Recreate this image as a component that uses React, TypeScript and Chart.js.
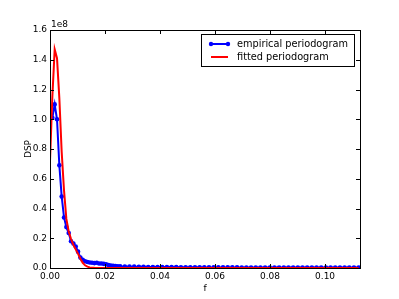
import React, { useEffect, useRef } from "react";
import { Chart, registerables } from "chart.js";

Chart.register(...registerables);

const freqs: number[] = [
  0, 0.00085, 0.0017, 0.00255, 0.0034, 0.00425, 0.0051, 0.00595, 0.0068, 0.00765,
  0.0085, 0.00935, 0.0102, 0.01105, 0.0119, 0.01275, 0.0136, 0.01445, 0.0153, 0.01615,
  0.017, 0.01785, 0.0187, 0.01955, 0.0204, 0.02125, 0.0221, 0.02295, 0.0238, 0.02465,
  0.0255, 0.0272, 0.0289, 0.0306, 0.0323, 0.034, 0.0357, 0.0374, 0.0391, 0.0408,
  0.0425, 0.0442, 0.0459, 0.0476, 0.0493, 0.051, 0.0527, 0.0544, 0.0561, 0.0578,
  0.0595, 0.0612, 0.0629, 0.0646, 0.0663, 0.068, 0.0697, 0.0714, 0.0731, 0.0748,
  0.0765, 0.0782, 0.0799, 0.0816, 0.0833, 0.085, 0.0867, 0.0884, 0.0901, 0.0918,
  0.0935, 0.0952, 0.0969, 0.0986, 0.1003, 0.102, 0.1037, 0.1054, 0.1071, 0.1088,
  0.1105, 0.1122,
];

// values in units of 1e8
const empirical: (number | null)[] = [
  null, 1.01, 1.1, 1.0, 0.69, 0.48, 0.34, 0.275, 0.235, 0.18,
  0.165, 0.145, 0.11, 0.07, 0.055, 0.045, 0.04, 0.037, 0.035, 0.033,
  0.035, 0.03, 0.03, 0.028, 0.025, 0.02, 0.017, 0.015, 0.013, 0.012,
  0.011, 0.01, 0.009, 0.009, 0.008, 0.008, 0.007, 0.007, 0.007, 0.006,
  0.006, 0.006, 0.006, 0.005, 0.005, 0.005, 0.005, 0.005, 0.004, 0.004,
  0.004, 0.004, 0.004, 0.004, 0.004, 0.004, 0.003, 0.003, 0.003, 0.003,
  0.003, 0.003, 0.003, 0.003, 0.003, 0.003, 0.003, 0.003, 0.003, 0.003,
  0.003, 0.003, 0.003, 0.003, 0.003, 0.003, 0.003, 0.003, 0.003, 0.003,
  0.003, 0.003,
];

const fitted: number[] = [
  0.72, 1.15, 1.47, 1.41, 1.14, 0.78, 0.52, 0.33, 0.245, 0.195,
  0.155, 0.125, 0.095, 0.062, 0.035, 0.018, 0.009, 0.004, 0.002, 0.001,
  0.0008, 0.0005, 0.0004, 0.0003, 0.0002, 0.0001, 0, 0, 0, 0,
  0, 0, 0, 0, 0, 0, 0, 0, 0, 0,
  0, 0, 0, 0, 0, 0, 0, 0, 0, 0,
  0, 0, 0, 0, 0, 0, 0, 0, 0, 0,
  0, 0, 0, 0, 0, 0, 0, 0, 0, 0,
  0, 0, 0, 0, 0, 0, 0, 0, 0, 0,
  0, 0,
];

const seriesNames = ["empirical periodogram", "fitted periodogram"];
const xTitle = "f";
const yTitle = "DSP";
const yOffsetText = "1e8";
const xMax = 0.1127;
const yMax = 1.6;

const FONT = "DejaVu Sans";

const decorPlugin = {
  id: "decor",
  afterDraw(chart: any) {
    const ctx = chart.ctx;
    const { left, right, top, bottom } = chart.chartArea;
    const xs = chart.scales.x;
    const ys = chart.scales.y;
    ctx.save();
    ctx.strokeStyle = "#000";
    ctx.lineWidth = 1;
    ctx.strokeRect(Math.round(left) + 0.5, Math.round(top) + 0.5, Math.round(right - left), Math.round(bottom - top));
    const tl = 4;
    ctx.beginPath();
    xs.ticks.forEach((t: any) => {
      const px = Math.round(xs.getPixelForValue(t.value)) + 0.5;
      ctx.moveTo(px, bottom);
      ctx.lineTo(px, bottom - tl);
      ctx.moveTo(px, top);
      ctx.lineTo(px, top + tl);
    });
    ys.ticks.forEach((t: any) => {
      const py = Math.round(ys.getPixelForValue(t.value)) + 0.5;
      ctx.moveTo(left, py);
      ctx.lineTo(left + tl, py);
      ctx.moveTo(right, py);
      ctx.lineTo(right - tl, py);
    });
    ctx.stroke();

    ctx.fillStyle = "#000";
    ctx.font = `9px '${FONT}'`;
    ctx.textAlign = "left";
    ctx.textBaseline = "alphabetic";
    ctx.fillText(yOffsetText, left + 1, top - 3);
    ctx.textAlign = "center";
    ctx.fillText(xTitle, (left + right) / 2, 291);
    ctx.save();
    ctx.translate(31, (top + bottom) / 2);
    ctx.rotate(-Math.PI / 2);
    ctx.fillText(yTitle, 0, 0);
    ctx.restore();

    const lx = 201, ly = 34, lw = 153, lh = 32;
    ctx.fillStyle = "#fff";
    ctx.fillRect(lx, ly, lw, lh);
    ctx.strokeStyle = "#000";
    ctx.strokeRect(lx + 0.5, ly + 0.5, lw, lh);
    const rows = [ly + 10, ly + 23];
    ctx.strokeStyle = "#0000ff";
    ctx.lineWidth = 2;
    ctx.beginPath();
    ctx.moveTo(211, rows[0]);
    ctx.lineTo(228, rows[0]);
    ctx.stroke();
    ctx.fillStyle = "#0000ff";
    [211, 228].forEach((px) => {
      ctx.beginPath();
      ctx.arc(px, rows[0], 2.2, 0, Math.PI * 2);
      ctx.fill();
    });
    ctx.strokeStyle = "#ff0000";
    ctx.beginPath();
    ctx.moveTo(211, rows[1]);
    ctx.lineTo(228, rows[1]);
    ctx.stroke();
    ctx.fillStyle = "#000";
    ctx.font = `9.75px '${FONT}'`;
    ctx.textAlign = "left";
    ctx.textBaseline = "middle";
    ctx.fillText(seriesNames[0], 237, rows[0]);
    ctx.fillText(seriesNames[1], 237, rows[1]);
    ctx.restore();
  },
};

export default function App() {
  const canvasRef = useRef<HTMLCanvasElement | null>(null);

  useEffect(() => {
    document.body.style.margin = "0";
    const canvas = canvasRef.current;
    if (!canvas) return;
    const empData = freqs
      .map((f, i) => ({ x: f, y: empirical[i] }))
      .filter((p) => p.y !== null);
    const fitData = freqs.map((f, i) => ({ x: f, y: fitted[i] }));
    const chart = new Chart(canvas, {
      type: "line",
      data: {
        datasets: [
          {
            label: seriesNames[0],
            data: empData as any,
            borderColor: "#0000ff",
            backgroundColor: "#0000ff",
            borderWidth: 2,
            pointRadius: 2.3,
            pointBorderWidth: 0,
            pointBackgroundColor: "#0000ff",
            tension: 0,
            order: 2,
          },
          {
            label: seriesNames[1],
            data: fitData as any,
            borderColor: "#ff0000",
            backgroundColor: "#ff0000",
            borderWidth: 2,
            pointRadius: 0,
            tension: 0,
            order: 1,
          },
        ],
      },
      options: {
        animation: false,
        responsive: false,
        devicePixelRatio: 1,
        layout: { padding: { top: 30, right: 39, left: 0, bottom: 0 } },
        plugins: {
          legend: { display: false },
          tooltip: { enabled: false },
        },
        scales: {
          x: {
            type: "linear",
            min: 0,
            max: xMax,
            grid: { display: false, drawTicks: false },
            border: { display: false },
            ticks: {
              stepSize: 0.02,
              includeBounds: false,
              autoSkip: false,
              maxRotation: 0,
              padding: 3,
              color: "#000",
              font: { family: FONT, size: 9 },
              callback: (v: any) => Number(v).toFixed(2),
            },
            afterFit: (s: any) => {
              s.height = 31;
            },
          },
          y: {
            type: "linear",
            min: 0,
            max: yMax,
            grid: { display: false, drawTicks: false },
            border: { display: false },
            ticks: {
              stepSize: 0.2,
              includeBounds: false,
              autoSkip: false,
              padding: 3,
              color: "#000",
              font: { family: FONT, size: 9 },
              callback: (v: any) => Number(v).toFixed(1),
            },
            afterFit: (s: any) => {
              s.width = 50;
            },
          },
        },
      },
      plugins: [decorPlugin],
    });
    return () => chart.destroy();
  }, []);

  return <canvas ref={canvasRef} width={399} height={299} style={{ display: "block" }} />;
}
